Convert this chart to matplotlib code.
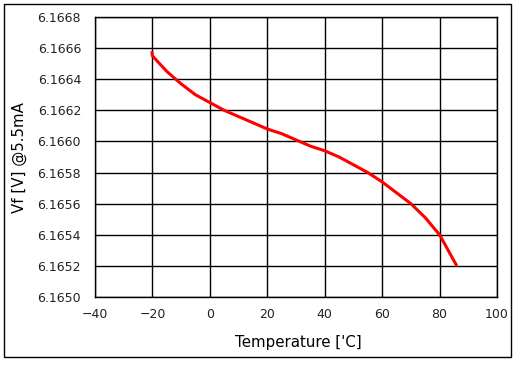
import matplotlib
matplotlib.use("Agg")
import matplotlib.pyplot as plt
from matplotlib.patches import Rectangle

# ── Data ───────────────────────────────────────────────────────────────────
temperature = [-20.2, -20, -15, -10, -5, 0, 5, 10, 15, 20, 25, 30, 35, 40,
               45, 50, 55, 60, 65, 70, 75, 80, 83, 86]
vf = [6.16658, 6.16655, 6.16645, 6.16637, 6.16630, 6.16625, 6.16620, 6.16616,
      6.16612, 6.16608, 6.16605, 6.16601, 6.16597, 6.16594, 6.16590, 6.16585,
      6.16580, 6.16574, 6.16567, 6.16560, 6.16551, 6.16540, 6.16530, 6.16520]

x_ticks = [-40, -20, 0, 20, 40, 60, 80, 100]
y_ticks = [6.1650, 6.1652, 6.1654, 6.1656, 6.1658, 6.1660, 6.1662, 6.1664,
           6.1666, 6.1668]

plt.rcParams["font.family"] = ["DejaVu Sans"]

fig = plt.figure(figsize=(5.23, 3.65), dpi=100)
ax = fig.add_axes([95 / 523, 1 - 297 / 365, (497 - 95) / 523, (297 - 17) / 365])

ax.plot(temperature, vf, color="red", lw=2.2, solid_capstyle="butt",
        solid_joinstyle="round")

ax.set_xlim(-40, 100)
ax.set_ylim(6.1650, 6.1668)
ax.set_xticks(x_ticks)
ax.set_yticks(y_ticks)
ax.set_yticklabels([f"{v:.4f}" for v in y_ticks])
ax.tick_params(length=0, labelsize=9, pad=10, colors="#222222")
ax.tick_params(axis="x", pad=8)
ax.grid(True, color="black", lw=1)
for s in ax.spines.values():
    s.set_color("black")
    s.set_linewidth(1)

fig.text(298 / 523, 1 - 342 / 365, "Temperature ['C]", ha="center",
         va="center", fontsize=10.8)
fig.text(19 / 523, 1 - 158 / 365, "Vf [V] @5.5mA", ha="center", va="center",
         rotation=90, fontsize=10.8)

fig.patches.append(Rectangle((4 / 523, 1 - 357 / 365), 507 / 523, 353 / 365,
                             transform=fig.transFigure, fill=False,
                             edgecolor="black", lw=1))

fig.savefig("out.png", dpi=100)
plt.close()
